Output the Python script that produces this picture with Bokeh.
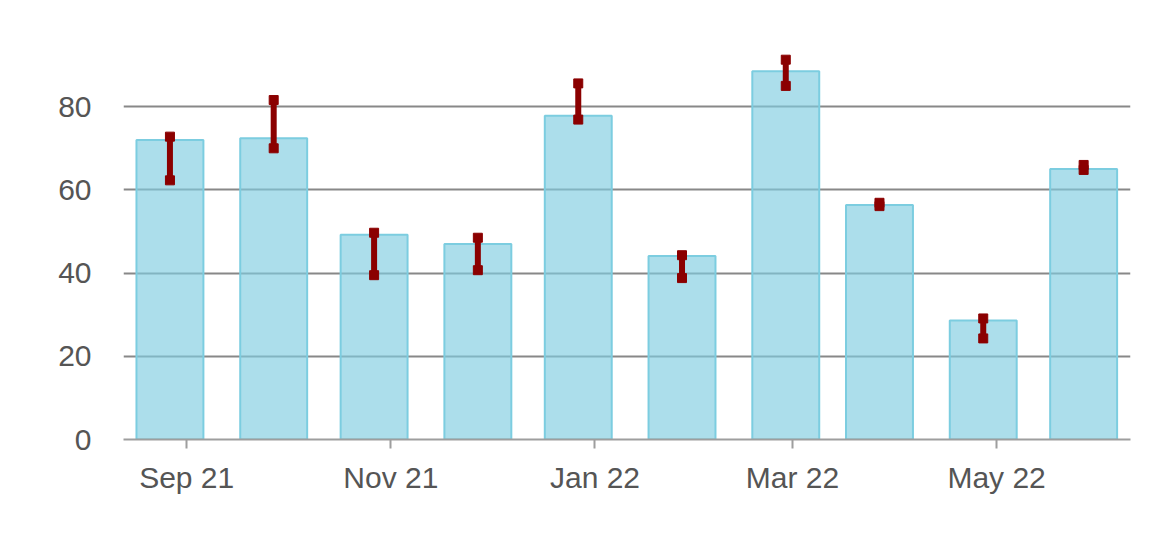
from datetime import datetime
from bokeh.plotting import figure
from bokeh.models import Range1d, DatetimeTickFormatter, MonthsTicker, ColumnDataSource
from bokeh.embed import file_html
from bokeh.resources import INLINE

# ---- data ----
dates = ["2021-08-27", "2021-09-27", "2021-10-27", "2021-11-27", "2021-12-27",
         "2022-01-27", "2022-02-27", "2022-03-27", "2022-04-27", "2022-05-27"]
values = [72.0, 72.4, 49.2, 47.0, 77.8, 44.1, 88.5, 56.4, 28.6, 65.0]
err_low = [62.3, 70.0, 39.5, 40.7, 76.9, 38.8, 85.0, 56.1, 24.3, 64.8]
err_high = [72.8, 81.6, 49.7, 48.5, 85.6, 44.3, 91.3, 56.9, 29.1, 66.0]
y_ticks = [0, 20, 40, 60, 80]

x = [datetime.strptime(d, "%Y-%m-%d") for d in dates]
src = ColumnDataSource(dict(x=x, top=values, lo=err_low, hi=err_high))

p = figure(width=1158, height=538, output_backend="svg", toolbar_location=None,
           x_axis_type="datetime",
           x_range=Range1d(datetime(2021, 8, 13, 3), datetime(2022, 6, 10, 0)),
           y_range=Range1d(0, 100),
           min_border_left=123, min_border_right=28, min_border_top=23,
           min_border_bottom=99)
p.outline_line_color = None
p.background_fill_color = "white"

bar_w = 20 * 24 * 3600 * 1000
p.vbar(x="x", top="top", bottom=0, width=bar_w, source=src,
       fill_color="#7fcde0", fill_alpha=0.65,
       line_color="#7ccde0", line_width=2)

p.segment(x0="x", x1="x", y0="lo", y1="hi", source=src,
          line_color="#8b0000", line_width=6)
p.scatter(x="x", y="lo", source=src, marker="square", size=9,
          fill_color="#8b0000", line_color="#8b0000")
p.scatter(x="x", y="hi", source=src, marker="square", size=9,
          fill_color="#8b0000", line_color="#8b0000")

# grids
p.xgrid.grid_line_color = None
p.ygrid.grid_line_color = "#888888"
p.ygrid.grid_line_width = 2
p.yaxis.ticker = y_ticks

# y axis
ya = p.yaxis[0]
ya.axis_line_color = None
ya.major_tick_line_color = None
ya.minor_tick_line_color = None
ya.major_tick_out = 0
ya.major_label_standoff = 32
ya.major_label_text_font = "Liberation Sans"
ya.major_label_text_font_size = "30px"
ya.major_label_text_color = "#555555"

# x axis
xa = p.xaxis[0]
xa.ticker = MonthsTicker(months=[0, 2, 4, 6, 8, 10])
xa.formatter = DatetimeTickFormatter(months="%b %y", days="%b %y")
xa.axis_line_color = "#9e9e9e"
xa.axis_line_width = 2
xa.major_tick_line_color = "#9e9e9e"
xa.major_tick_line_width = 2
xa.major_tick_in = 0
xa.major_tick_out = 9
xa.minor_tick_line_color = None
xa.major_label_standoff = 12
xa.major_label_text_font = "Liberation Sans"
xa.major_label_text_font_size = "30px"
xa.major_label_text_color = "#555555"

open("out.html", "w").write(file_html(p, INLINE))
